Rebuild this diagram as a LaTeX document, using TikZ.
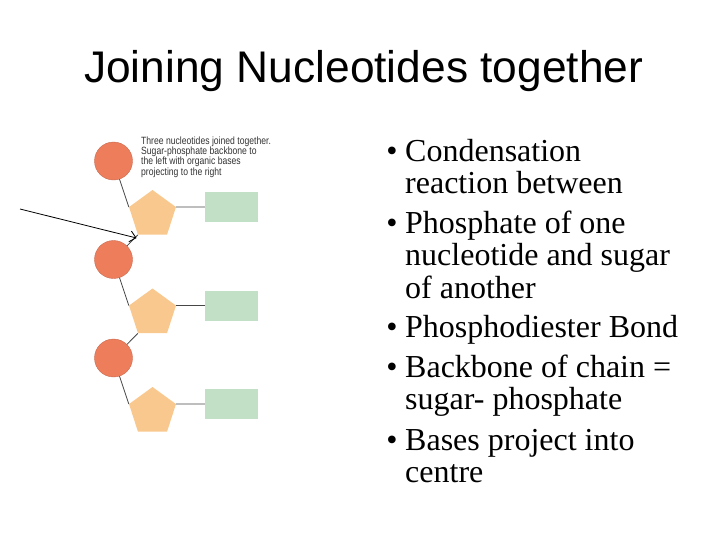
\documentclass[tikz,border=0pt]{standalone}
\usepackage{fontspec}
\setmainfont{Liberation Serif}
\newfontfamily\titlefont{Liberation Sans}
\newfontfamily\notefont[FakeStretch=0.82]{Liberation Sans}
\usetikzlibrary{shapes.geometric,arrows.meta,positioning}

\definecolor{phosphate}{RGB}{238,125,92}
\definecolor{sugar}{RGB}{249,200,142}
\definecolor{base}{RGB}{194,224,198}
\definecolor{bondgray}{RGB}{70,70,70}

\tikzset{
  phos/.style={circle, fill=phosphate, draw=phosphate!85!black, line width=0.4pt, minimum size=38pt, inner sep=0pt},
  sug/.style={regular polygon, regular polygon sides=5, fill=sugar, minimum size=49.4pt, inner sep=0pt},
  bas/.style={rectangle, fill=base, minimum width=53pt, minimum height=30pt, inner sep=0pt},
  bond/.style={draw=bondgray, line width=0.8pt},
  point/.style={font=\fontsize{32}{32.5}\selectfont, anchor=base west, align=left, inner sep=0pt},
  dot/.style={font=\fontsize{32}{32.5}\selectfont, anchor=base, inner sep=0pt}
}

\begin{document}
\begin{tikzpicture}[x=1pt,y=-1pt]
  \useasboundingbox (0,0) rectangle (728,546);

  % title
  \node (title) [anchor=base west, inner sep=0pt, font=\titlefont\fontsize{44.3}{48}\selectfont] at (84,82) {Joining Nucleotides together};

  % the chain
  \node (p1) [phos] at (113.5,161) {};
  \node (p2) [phos] at (113.5,259.5) {};
  \node (p3) [phos] at (113.5,358) {};
  \node (s1) [sug] at (152.5,214.7) {};
  \node (s2) [sug] at (152.5,313.2) {};
  \node (s3) [sug] at (152.5,411.7) {};
  \node (b1) [bas] at (231.5,207) {};
  \node (b2) [bas] at (231.5,305.5) {};
  \node (b3) [bas] at (231.5,404) {};

  \path[bond]
    (p1) edge (s1.corner 2)
    (s1.corner 3) edge (p2)
    (p2) edge (s2.corner 2)
    (s2.corner 3) edge (p3)
    (p3) edge (s3.corner 2)
    (s1.corner 5) edge (b1)
    (s2.corner 5) edge (b2)
    (s3.corner 5) edge (b3);

  % caption (base = last line)
  \node (note) [anchor=base west, inner sep=0pt, align=left, text=black!80,
    font=\notefont\fontsize{10.5}{10.3}\selectfont] at (141,175)
    {Three nucleotides joined together.\\Sugar-phosphate backbone to\\the left with organic bases\\projecting to the right};

  % arrow to the bond
  \coordinate (tail) at (20,209);
  \coordinate (link) at (136.5,238);
  \draw[line width=0.8pt, -{Straight Barb[length=6pt,width=11pt]}] (tail) -- (link);

  % bullet points (text nodes sit on their last line)
  \node (d1) [dot] at (392,161) {\textbullet};
  \node (t1) [point] at (405,193.5) {Condensation\\reaction between};
  \node (d2) [dot] at (392,233) {\textbullet};
  \node (t2) [point] at (405,298) {Phosphate of one\\nucleotide and sugar\\of another};
  \node (d3) [dot] at (392,337) {\textbullet};
  \node (t3) [point] at (405,337) {Phosphodiester Bond};
  \node (d4) [dot] at (392,377) {\textbullet};
  \node (t4) [point] at (405,409.5) {Backbone of chain =\\sugar- phosphate};
  \node (d5) [dot] at (392,450) {\textbullet};
  \node (t5) [point] at (405,482.5) {Bases project into\\centre};
\end{tikzpicture}
\end{document}
